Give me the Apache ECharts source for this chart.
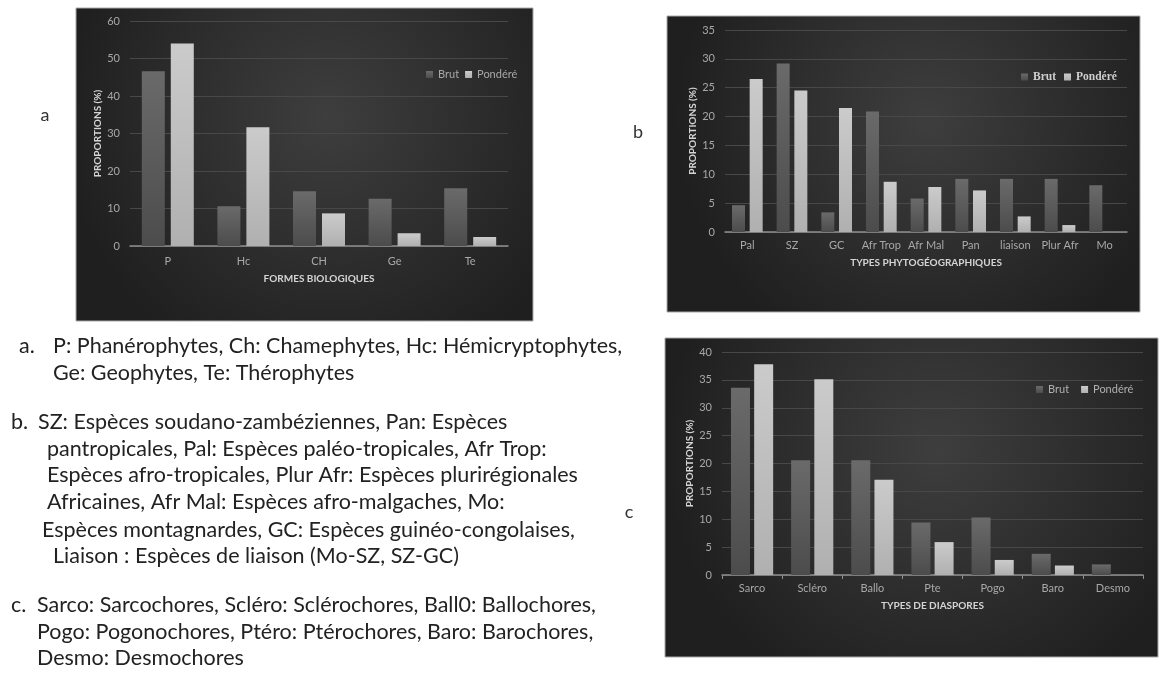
<!DOCTYPE html>
<html><head><meta charset="utf-8">
<script src="https://cdn.jsdelivr.net/npm/echarts@6/dist/echarts.min.js"></script>
<style>html,body{margin:0;padding:0;background:#fff}#c{width:1163px;height:675px}</style>
</head><body><div id="c"></div>
<script>
// ---- Data ----
const seriesNames = ['Brut', 'Pondéré'];

const catA = ['P', 'Hc', 'CH', 'Ge', 'Te'];
const brutA = [46.6, 10.6, 14.6, 12.6, 15.4];
const pondA = [54.0, 31.7, 8.7, 3.4, 2.4];
const ticksA = [0, 10, 20, 30, 40, 50, 60];

const catB = ['Pal', 'SZ', 'GC', 'Afr Trop', 'Afr Mal', 'Pan', 'liaison', 'Plur Afr', 'Mo'];
const brutB = [4.65, 29.2, 3.4, 20.9, 5.8, 9.2, 9.2, 9.2, 8.1];
const pondB = [26.5, 24.5, 21.5, 8.7, 7.8, 7.2, 2.7, 1.2, 0];
const ticksB = [0, 5, 10, 15, 20, 25, 30, 35];

const catC = ['Sarco', 'Scléro', 'Ballo', 'Pte', 'Pogo', 'Baro', 'Desmo'];
const brutC = [33.6, 20.6, 20.6, 9.4, 10.3, 3.8, 1.9];
const pondC = [37.8, 35.1, 17.1, 5.9, 2.7, 1.7, 0];
const ticksC = [0, 5, 10, 15, 20, 25, 30, 35, 40];

const yName = 'PROPORTIONS (%)';
const xNames = ['FORMES BIOLOGIQUES', 'TYPES PHYTOGÉOGRAPHIQUES', 'TYPES DE DIASPORES'];
const panelLetters = ['a', 'b', 'c'];

const notes = [
  ['a.', 'P: Phanérophytes, Ch: Chamephytes, Hc: Hémicryptophytes,'],
  ['', 'Ge: Geophytes, Te: Thérophytes'],
  ['b.', 'SZ: Espèces soudano-zambéziennes, Pan: Espèces'],
  ['', 'pantropicales, Pal: Espèces paléo-tropicales, Afr Trop:'],
  ['', 'Espèces afro-tropicales, Plur Afr: Espèces plurirégionales'],
  ['', 'Africaines, Afr Mal: Espèces afro-malgaches, Mo:'],
  ['', 'Espèces montagnardes, GC: Espèces guinéo-congolaises,'],
  ['', 'Liaison : Espèces de liaison (Mo-SZ, SZ-GC)'],
  ['c.', 'Sarco: Sarcochores, Scléro: Sclérochores, Ball0: Ballochores,'],
  ['', 'Pogo: Pogonochores, Ptéro: Ptérochores, Baro: Barochores,'],
  ['', 'Desmo: Desmochores']
];

// ---- Layout / style ----
const FONT = 'Lato, "Liberation Sans", sans-serif';
const noteX = [[19, 53], [0, 53], [11, 38], [0, 47], [0, 47], [0, 47], [0, 42], [0, 53], [11, 37], [0, 37], [0, 37]];
const noteY = [346, 373, 422, 449, 475, 502, 530, 556, 605, 632, 658];

const panels = [
  {x: 76, y: 8, w: 457, h: 313},
  {x: 667, y: 16, w: 473, h: 296},
  {x: 665, y: 338, w: 493, h: 319}
];
const letterPos = [[45, 115], [638, 132], [629, 512]];

const grids = [
  {left: 130, right: 1163 - 508, top: 21, bottom: 675 - 246},
  {left: 725, right: 1163 - 1127, top: 30, bottom: 675 - 232},
  {left: 722, right: 1163 - 1143, top: 352, bottom: 675 - 575}
];

const darkBar = {type: 'linear', x: 0, y: 0, x2: 0, y2: 1,
  colorStops: [{offset: 0, color: '#6a6a6a'}, {offset: 1, color: '#4c4c4c'}]};
const lightBar = {type: 'linear', x: 0, y: 0, x2: 0, y2: 1,
  colorStops: [{offset: 0, color: '#cbcbcb'}, {offset: 1, color: '#b0b0b0'}]};

const panelFill = {type: 'radial', x: 0.55, y: 0.35, r: 0.85,
  colorStops: [{offset: 0, color: '#3e3e3e'}, {offset: 1, color: '#1f1f1f'}]};

const graphic = [];
panels.forEach(p => graphic.push({type: 'rect', z: -10, shape: {x: p.x, y: p.y, width: p.w, height: p.h},
  style: {fill: panelFill, stroke: '#a8a8a8', lineWidth: 1}}));
panelLetters.forEach((l, i) => graphic.push({type: 'text', x: letterPos[i][0], y: letterPos[i][1],
  style: {text: l, font: '18px ' + FONT, fill: '#333', textAlign: 'center', textVerticalAlign: 'middle'}}));
notes.forEach((n, i) => {
  if (n[0]) graphic.push({type: 'text', x: noteX[i][0], y: noteY[i],
    style: {text: n[0], font: '21.5px ' + FONT, fill: '#222', textVerticalAlign: 'middle'}});
  graphic.push({type: 'text', x: noteX[i][1], y: noteY[i],
    style: {text: n[1], font: '21.5px ' + FONT, fill: '#222', textVerticalAlign: 'middle'}});
});

const cats = [catA, catB, catC];
const ticks = [ticksA, ticksB, ticksC];
const xAxis = cats.map((c, i) => ({
  type: 'category', gridIndex: i, data: c,
  axisLine: {lineStyle: {color: '#8e8e8e', width: 1.5}},
  axisTick: {show: i === 2, length: 4, lineStyle: {color: '#8e8e8e'}},
  axisLabel: {color: '#a8a8a8', fontSize: 11, fontFamily: FONT, margin: i === 0 ? 10 : 8, interval: 0},
  name: xNames[i], nameLocation: 'middle', nameGap: i === 0 ? 28 : 26,
  nameTextStyle: {color: '#d4d4d4', fontWeight: 'bold', fontSize: 10, fontFamily: FONT}
}));
const yAxis = ticks.map((t, i) => ({
  type: 'value', gridIndex: i, min: t[0], max: t[t.length - 1], interval: t[1] - t[0],
  axisLine: {show: false}, axisTick: {show: false},
  axisLabel: {color: '#a8a8a8', fontSize: 11, fontFamily: FONT, margin: 10},
  splitLine: {lineStyle: {color: '#484848', width: 1}},
  name: yName, nameLocation: 'middle', nameGap: 27,
  nameTextStyle: {color: '#d4d4d4', fontWeight: 'bold', fontSize: 10, fontFamily: FONT}
}));

const brut = [brutA, brutB, brutC];
const pond = [pondA, pondB, pondC];
const bw = [23, 13, 19];
const gaps = ['26%', '36%', '22%'];
const series = [];
for (let i = 0; i < 3; i++) {
  series.push({type: 'bar', name: seriesNames[0], xAxisIndex: i, yAxisIndex: i, data: brut[i],
    barWidth: bw[i], barGap: gaps[i], itemStyle: {color: darkBar}});
  series.push({type: 'bar', name: seriesNames[1], xAxisIndex: i, yAxisIndex: i, data: pond[i],
    barWidth: bw[i], barGap: gaps[i], itemStyle: {color: lightBar}});
}

const legendBase = {data: seriesNames, icon: 'rect', itemWidth: 7, itemHeight: 7, itemGap: 8, selectedMode: false};
const legend = [
  Object.assign({}, legendBase, {left: 421, top: 64, itemGap: 6, textStyle: {color: '#a8a8a8', fontSize: 11, fontFamily: FONT}}),
  Object.assign({}, legendBase, {left: 1016, top: 66, itemGap: 8,
    textStyle: {color: '#cfcfcf', fontSize: 11.5, fontWeight: 'bold', fontFamily: '"Liberation Serif", serif'}}),
  Object.assign({}, legendBase, {left: 1031, top: 379, itemGap: 12, textStyle: {color: '#b0b0b0', fontSize: 11, fontFamily: FONT}})
];

const chart = echarts.init(document.getElementById('c'), null, {renderer: 'canvas'});
chart.setOption({
  backgroundColor: '#ffffff',
  animation: false,
  grid: grids,
  xAxis: xAxis,
  yAxis: yAxis,
  legend: legend,
  series: series,
  graphic: graphic
});
</script></body></html>
